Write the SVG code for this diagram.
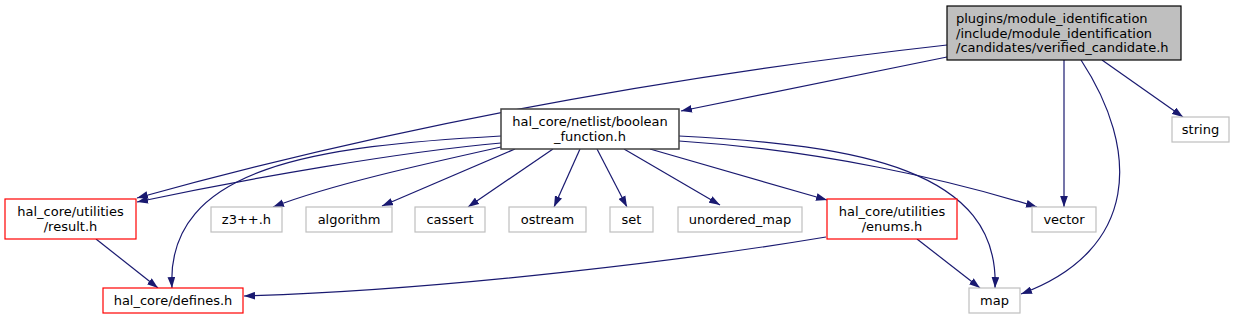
<svg xmlns="http://www.w3.org/2000/svg" width="1235" height="320" viewBox="0 0 1235 320">
<style>
text{font-family:"DejaVu Sans","Liberation Sans",sans-serif;font-size:13px;fill:#000}
.c{text-anchor:middle}
.s{text-anchor:start}
.gray{fill:#fff;stroke:#bfbfbf;stroke-width:1.2}
.red{fill:#fff;stroke:#ff0000;stroke-width:1.2}
.blk{fill:#fff;stroke:#404040;stroke-width:1.5}
.top{fill:#bfbfbf;stroke:#000;stroke-width:1.2}
.e{fill:none;stroke:#191970;stroke-width:1.2;marker-end:url(#ah)}
</style>
<defs>
<marker id="ah" markerUnits="userSpaceOnUse" markerWidth="11" markerHeight="8" viewBox="0 0 10 7" refX="10" refY="3.5" orient="auto">
<path d="M0,0 L10,3.5 L0,7 z" fill="#191970"/>
</marker>
</defs>
<rect width="1235" height="320" fill="#fff"/>
<g id="connectors">
<path class="e" d="M947,57 L681,111"/>
<path class="e" d="M947,45 C760,66 460,108 137,198"/>
<path class="e" d="M1064,60 L1064,207"/>
<path class="e" d="M1102,60 L1183,117"/>
<path class="e" d="M1081,60 C1140,150 1140,250 1021,294"/>
<path class="e" d="M501,143 C400,152 250,178 137,202"/>
<path class="e" d="M501,136 C320,146 165,165 172,288"/>
<path class="e" d="M501,147 C420,165 330,185 273,207"/>
<path class="e" d="M515,149 L382,206"/>
<path class="e" d="M553,149 L468,207"/>
<path class="e" d="M580,149 L554,207"/>
<path class="e" d="M597,149 L627,207"/>
<path class="e" d="M624,149 L720,205"/>
<path class="e" d="M650,149 L827,200"/>
<path class="e" d="M679,141 C820,150 950,180 1037,207"/>
<path class="e" d="M679,136 C860,145 1000,170 995,288"/>
<path class="e" d="M96,239 L158,288"/>
<path class="e" d="M826,237 C700,258 450,290 244,296"/>
<path class="e" d="M917,239 L980,288"/>
</g>
<g id="verified_candidate">
<rect class="top" x="947" y="6" width="234" height="54"/>
<text class="s" x="956" y="23">plugins/module_identification</text>
<text class="s" x="956" y="37.5">/include/module_identification</text>
<text class="s" x="956" y="52">/candidates/verified_candidate.h</text>
</g>
<g id="boolean_function">
<rect class="blk" x="501" y="109" width="178" height="40"/>
<text class="c" x="590" y="126">hal_core/netlist/boolean</text>
<text class="c" x="590" y="140.5">_function.h</text>
</g>
<g id="result">
<rect class="red" x="5" y="199" width="131" height="40"/>
<text class="c" x="70.5" y="216">hal_core/utilities</text>
<text class="c" x="70.5" y="230.5">/result.h</text>
</g>
<g id="z3">
<rect class="gray" x="211" y="207" width="71" height="25"/>
<text class="c" x="246.5" y="223.5">z3++.h</text>
</g>
<g id="algorithm">
<rect class="gray" x="306" y="207" width="86" height="25"/>
<text class="c" x="349" y="223.5">algorithm</text>
</g>
<g id="cassert">
<rect class="gray" x="415" y="207" width="70" height="25"/>
<text class="c" x="450" y="223.5">cassert</text>
</g>
<g id="ostream">
<rect class="gray" x="509" y="207" width="77" height="25"/>
<text class="c" x="547.5" y="223.5">ostream</text>
</g>
<g id="set">
<rect class="gray" x="610" y="207" width="43" height="25"/>
<text class="c" x="631.5" y="223.5">set</text>
</g>
<g id="unordered_map">
<rect class="gray" x="678" y="207" width="124" height="25"/>
<text class="c" x="740" y="223.5">unordered_map</text>
</g>
<g id="enums">
<rect class="red" x="827" y="199" width="130" height="40"/>
<text class="c" x="892" y="216">hal_core/utilities</text>
<text class="c" x="892" y="230.5">/enums.h</text>
</g>
<g id="vector">
<rect class="gray" x="1032" y="207" width="64" height="25"/>
<text class="c" x="1064" y="223.5">vector</text>
</g>
<g id="string">
<rect class="gray" x="1172" y="117" width="57" height="25"/>
<text class="c" x="1200.5" y="133.5">string</text>
</g>
<g id="defines">
<rect class="red" x="103" y="288" width="140" height="25"/>
<text class="c" x="173" y="304.5">hal_core/defines.h</text>
</g>
<g id="map">
<rect class="gray" x="969" y="288" width="51" height="25"/>
<text class="c" x="994.5" y="304.5">map</text>
</g>
</svg>
